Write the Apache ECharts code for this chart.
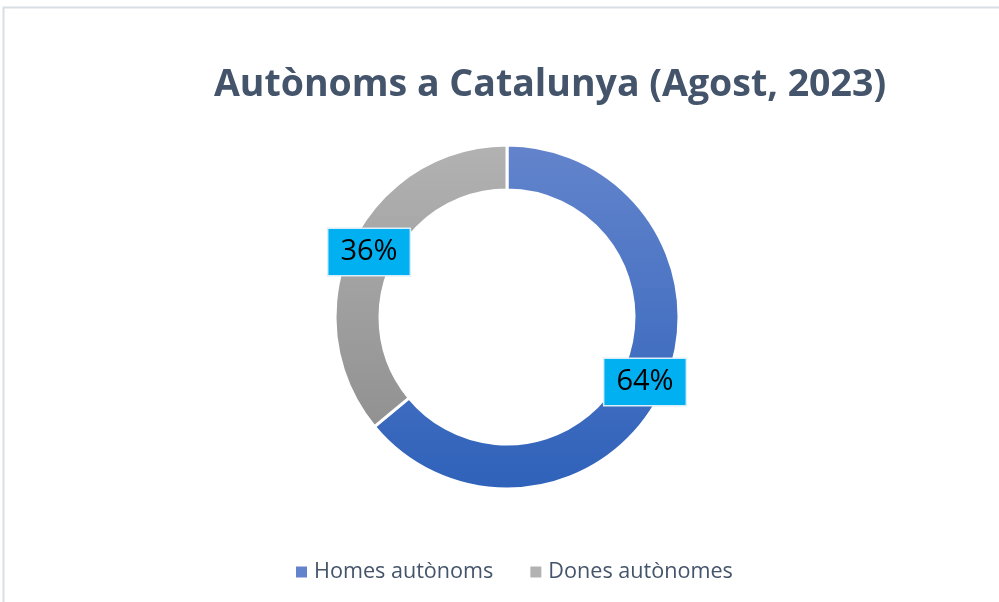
<!DOCTYPE html>
<html>
<head>
<meta charset="utf-8">
<script src="https://cdn.jsdelivr.net/npm/echarts@6/dist/echarts.min.js"></script>
<style>
  html, body { margin: 0; padding: 0; background: #fff; }
  #chart { width: 999px; height: 602px; }
</style>
</head>
<body>
<div id="chart"></div>
<script>
(function(){
  // Dades: autònoms per sexe (percentatge)
  const categories = ["Homes autònoms", "Dones autònomes"];
  const values = [64, 36];
  const titleText = "Autònoms a Catalunya (Agost, 2023)";

  const chart = echarts.init(document.getElementById("chart"));

  const grad = (top, bottom) => new echarts.graphic.LinearGradient(0, 145, 0, 490, [
    { offset: 0, color: top },
    { offset: 1, color: bottom }
  ], true);
  const colors = [grad("#6384cc", "#2f62ba"), grad("#b2b2b2", "#8a8a8a")];

  const option = {
    backgroundColor: "#fff",
    animation: false,
    graphic: [{
      type: "polyline",
      shape: { points: [[3.5, 602], [3.5, 7.5], [999, 7.5]] },
      style: { stroke: "#d9dde4", lineWidth: 2, fill: null },
      silent: true
    }],
    title: {
      text: titleText,
      left: 545, top: 61, textAlign: "center",
      textStyle: { fontFamily: "Open Sans", fontWeight: "bold", fontSize: 37.5, color: "#44546a" }
    },
    legend: {
      bottom: 14,
      left: 289,
      itemWidth: 13, itemHeight: 13, itemGap: 35,
      icon: "rect",
      textStyle: { fontFamily: "Open Sans", fontSize: 21.6, color: "#44546a", padding: [0, 0, 0, 1] },
      data: categories
    },
    series: [{
      type: "pie",
      center: [507, 317],
      radius: [127, 172],
      startAngle: 90,
      clockwise: true,
      itemStyle: { borderColor: "#fff", borderWidth: 3 },
      label: {
        show: true,
        position: "inside",
        formatter: "{c}%",
        fontFamily: "Open Sans",
        fontSize: 29,
        color: "#000",
        backgroundColor: "#00b0f0",
        borderColor: "#d8eef8",
        borderWidth: 1.5,
        padding: [10, 12, 7, 12]
      },
      labelLine: { show: false },
      data: categories.map((c, i) => ({ name: c, value: values[i], itemStyle: { color: colors[i] } }))
    }]
  };

  chart.setOption(option);
  window.addEventListener("resize", () => chart.resize());
})();
</script>
</body>
</html>
